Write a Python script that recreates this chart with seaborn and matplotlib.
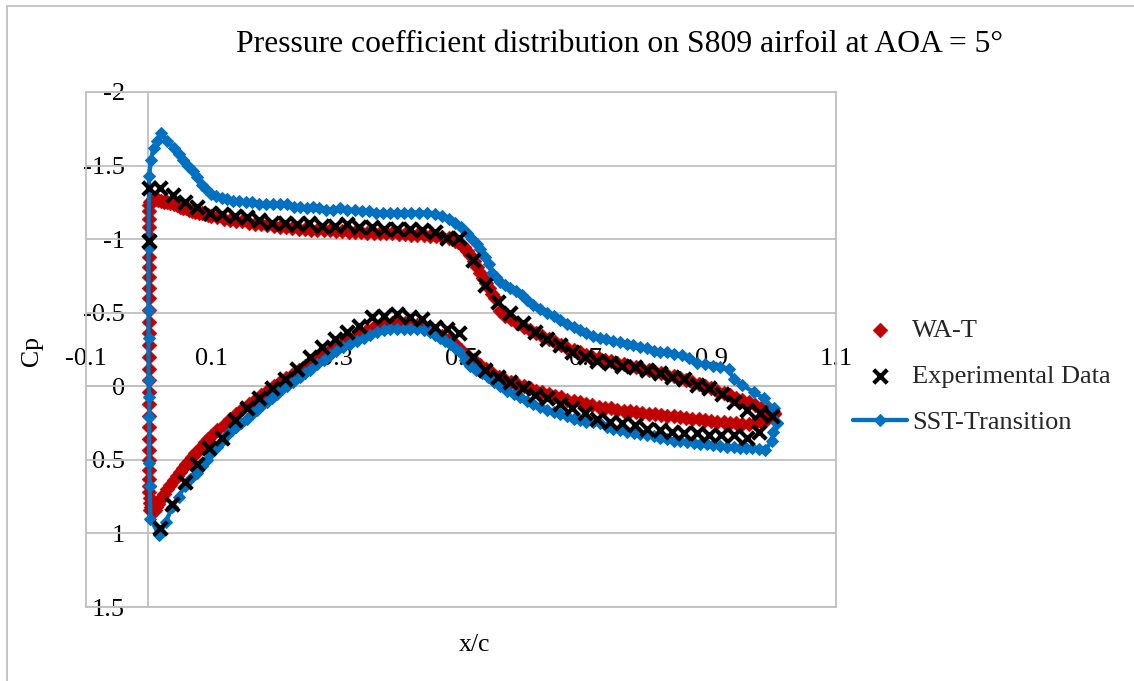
import numpy as np
import pandas as pd
import matplotlib
matplotlib.use("Agg")
import matplotlib.pyplot as plt
import matplotlib.patches as mpatches
import seaborn as sns

# ---------------- data ----------------
title = "Pressure coefficient distribution on S809 airfoil at AOA = 5°"
xticks = [-0.1, 0.1, 0.3, 0.5, 0.7, 0.9, 1.1]
xtick_labels = ["-0.1", "0.1", "0.3", "0.5", "0.7", "0.9", "1.1"]
yticks = [-2, -1.5, -1, -0.5, 0, 0.5, 1, 1.5]
ytick_labels = ["-2", "-1.5", "-1", "-0.5", "0", "0.5", "1", "1.5"]

# WA-T  upper surface (stagnation -> leading edge -> trailing edge)
wat_up_x = [0.006, 0.004, 0.003, 0.002, 0.0015, 0.001, 0.0008, 0.0006, 0.0005, 0.0004,
            0.0003, 0.0002, 0.0002, 0.0001, 0.0001, 0.0, 0.0, 0.0, 0.0, 0.0,
            0.0, 0.0, 0.0, 0.0, 0.0, 0.0, 0.0, 0.0, 0.0, 0.0,
            0.0, 0.0005, 0.001, 0.002, 0.004, 0.007, 0.01, 0.015, 0.02, 0.025,
            0.03, 0.035, 0.04, 0.045, 0.05, 0.055, 0.06, 0.065, 0.07, 0.075,
            0.08, 0.085, 0.09, 0.095,
            0.10, 0.11, 0.12, 0.13, 0.14, 0.15, 0.16, 0.17, 0.18, 0.19,
            0.20, 0.21, 0.22, 0.23, 0.24, 0.25, 0.26, 0.27, 0.28, 0.29,
            0.30, 0.31, 0.32, 0.33, 0.34, 0.35, 0.36, 0.37, 0.38, 0.39,
            0.40, 0.41, 0.42, 0.43, 0.44, 0.45, 0.46, 0.47, 0.48, 0.485,
            0.49, 0.495, 0.50, 0.505, 0.51, 0.515, 0.52, 0.525, 0.53, 0.535,
            0.54, 0.545, 0.55, 0.555, 0.562, 0.57, 0.58, 0.59,
            0.60, 0.61, 0.62, 0.63, 0.64, 0.65, 0.66, 0.67, 0.68, 0.69,
            0.70, 0.71, 0.72, 0.73, 0.74, 0.75, 0.76, 0.77, 0.78, 0.79,
            0.80, 0.81, 0.82, 0.83, 0.84, 0.85, 0.86, 0.87, 0.88, 0.89,
            0.90, 0.91, 0.92, 0.93, 0.94, 0.95, 0.96, 0.97, 0.98, 0.99, 1.00]
wat_up_cp = [0.84, 0.82, 0.79, 0.76, 0.72, 0.68, 0.63, 0.57, 0.50, 0.43,
             0.36, 0.28, 0.20, 0.12, 0.04, -0.04, -0.12, -0.20, -0.28, -0.36,
             -0.44, -0.52, -0.60, -0.67, -0.74, -0.81, -0.88, -0.95, -1.02, -1.08,
             -1.14, -1.19, -1.23, -1.25, -1.26, -1.27, -1.27, -1.265, -1.26, -1.255,
             -1.25, -1.245, -1.24, -1.23, -1.22, -1.215, -1.21, -1.20, -1.19, -1.185,
             -1.18, -1.175, -1.17, -1.165,
             -1.16, -1.15, -1.14, -1.13, -1.125, -1.12, -1.11, -1.105, -1.10, -1.095,
             -1.09, -1.085, -1.08, -1.075, -1.07, -1.07, -1.065, -1.06, -1.06, -1.06,
             -1.055, -1.055, -1.05, -1.05, -1.05, -1.045, -1.045, -1.04, -1.04, -1.04,
             -1.035, -1.035, -1.03, -1.03, -1.025, -1.02, -1.02, -1.015, -1.005, -0.998,
             -0.99, -0.98, -0.965, -0.945, -0.92, -0.89, -0.85, -0.81, -0.77, -0.735,
             -0.70, -0.665, -0.63, -0.60, -0.51, -0.48, -0.455, -0.43,
             -0.405, -0.385, -0.36, -0.34, -0.32, -0.30, -0.28, -0.26, -0.245, -0.23,
             -0.215, -0.20, -0.19, -0.18, -0.17, -0.16, -0.15, -0.14, -0.13, -0.12,
             -0.11, -0.10, -0.09, -0.08, -0.07, -0.055, -0.045, -0.03, -0.015, 0.0,
             0.015, 0.03, 0.045, 0.06, 0.08, 0.095, 0.11, 0.13, 0.145, 0.16, 0.18]

# WA-T  lower surface (stagnation -> trailing edge)
wat_lo_x = [0.003, 0.005, 0.008, 0.01, 0.0125, 0.015, 0.0175, 0.02, 0.025, 0.03,
            0.035, 0.04, 0.045, 0.05, 0.055, 0.06, 0.065, 0.07, 0.075, 0.08,
            0.085, 0.09, 0.095,
            0.10, 0.11, 0.12, 0.13, 0.14, 0.15, 0.16, 0.17, 0.18, 0.19,
            0.20, 0.21, 0.22, 0.23, 0.24, 0.25, 0.26, 0.27, 0.28, 0.29,
            0.30, 0.31, 0.32, 0.33, 0.34, 0.35, 0.36, 0.37, 0.38, 0.39,
            0.40, 0.41, 0.42, 0.43, 0.44, 0.45, 0.46, 0.47, 0.48, 0.49,
            0.50, 0.51, 0.52, 0.53, 0.54, 0.55, 0.56, 0.57, 0.58, 0.59,
            0.60, 0.61, 0.62, 0.63, 0.64, 0.65, 0.66, 0.67, 0.68, 0.69,
            0.70, 0.71, 0.72, 0.73, 0.74, 0.75, 0.76, 0.77, 0.78, 0.79,
            0.80, 0.81, 0.82, 0.83, 0.84, 0.85, 0.86, 0.87, 0.88, 0.89,
            0.90, 0.91, 0.92, 0.93, 0.94, 0.95, 0.96, 0.97, 0.98, 0.99, 1.00]
wat_lo_cp = [0.84, 0.85, 0.85, 0.84, 0.82, 0.80, 0.78, 0.76, 0.73, 0.70,
             0.67, 0.64, 0.61, 0.58, 0.555, 0.53, 0.505, 0.48, 0.455, 0.43,
             0.405, 0.38, 0.36,
             0.34, 0.30, 0.26, 0.225, 0.19, 0.155, 0.12, 0.09, 0.06, 0.03,
             0.0, -0.03, -0.055, -0.08, -0.11, -0.135, -0.16, -0.19, -0.22, -0.245,
             -0.27, -0.295, -0.32, -0.345, -0.365, -0.385, -0.40, -0.415, -0.425, -0.43,
             -0.435, -0.43, -0.425, -0.415, -0.40, -0.385, -0.365, -0.34, -0.315, -0.285,
             -0.25, -0.215, -0.18, -0.145, -0.115, -0.09, -0.065, -0.045, -0.03, -0.015,
             0.0, 0.015, 0.03, 0.04, 0.055, 0.065, 0.075, 0.09, 0.10, 0.11,
             0.12, 0.13, 0.14, 0.145, 0.15, 0.16, 0.165, 0.17, 0.175, 0.18,
             0.185, 0.19, 0.195, 0.20, 0.205, 0.21, 0.215, 0.22, 0.225, 0.23,
             0.235, 0.24, 0.245, 0.25, 0.25, 0.255, 0.255, 0.25, 0.24, 0.22, 0.19]

# Experimental data
exp_up_x = [0.0, 0.0, 0.018, 0.039, 0.058, 0.077, 0.098, 0.117, 0.138, 0.157,
            0.176, 0.197, 0.218, 0.237, 0.257, 0.277, 0.298, 0.317, 0.337, 0.357,
            0.376, 0.397, 0.418, 0.437, 0.458, 0.477, 0.497, 0.519, 0.538, 0.559,
            0.578, 0.599, 0.618, 0.638, 0.658, 0.678, 0.698, 0.718, 0.738, 0.758,
            0.778, 0.798, 0.818, 0.837, 0.856, 0.877, 0.897, 0.918, 0.937, 0.958,
            0.978, 0.998]
exp_up_cp = [-0.99, -1.35, -1.35, -1.30, -1.25, -1.22, -1.18, -1.17, -1.16, -1.15,
             -1.13, -1.11, -1.11, -1.10, -1.11, -1.09, -1.09, -1.10, -1.08, -1.08,
             -1.07, -1.07, -1.07, -1.06, -1.05, -1.01, -1.01, -0.86, -0.69, -0.57,
             -0.50, -0.43, -0.37, -0.32, -0.28, -0.23, -0.20, -0.17, -0.16, -0.14,
             -0.13, -0.11, -0.09, -0.06, -0.05, -0.01, 0.01, 0.05, 0.11, 0.16,
             0.18, 0.20]
exp_lo_x = [0.018, 0.038, 0.058, 0.078, 0.097, 0.117, 0.138, 0.157, 0.176, 0.197,
            0.218, 0.237, 0.258, 0.277, 0.298, 0.317, 0.337, 0.357, 0.376, 0.397,
            0.418, 0.438, 0.458, 0.477, 0.497, 0.519, 0.538, 0.559, 0.578, 0.599,
            0.618, 0.638, 0.658, 0.678, 0.698, 0.718, 0.738, 0.758, 0.778, 0.798,
            0.818, 0.837, 0.857, 0.877, 0.896, 0.916, 0.936, 0.957, 0.977]
exp_lo_cp = [0.96, 0.80, 0.65, 0.53, 0.42, 0.35, 0.23, 0.15, 0.08, 0.01,
             -0.05, -0.12, -0.20, -0.27, -0.32, -0.37, -0.41, -0.47, -0.48, -0.49,
             -0.47, -0.46, -0.40, -0.39, -0.36, -0.20, -0.11, -0.06, -0.03, 0.01,
             0.06, 0.08, 0.12, 0.15, 0.18, 0.22, 0.24, 0.25, 0.26, 0.29,
             0.30, 0.31, 0.32, 0.32, 0.33, 0.33, 0.33, 0.35, 0.31]

# SST-Transition: one ordered loop (TE -> upper -> LE -> lower -> TE)
sst_x = [1.005, 1.0, 0.984, 0.968, 0.95, 0.936, 0.928, 0.915, 0.903, 0.89,
         0.877, 0.865, 0.853, 0.841, 0.83, 0.819, 0.808, 0.797, 0.786, 0.775,
         0.765, 0.754, 0.743, 0.732, 0.722, 0.711, 0.70, 0.69, 0.68, 0.669,
         0.658, 0.648, 0.638, 0.626, 0.615, 0.606, 0.597, 0.588, 0.578, 0.57,
         0.562, 0.556, 0.55, 0.544, 0.538, 0.531, 0.525, 0.518, 0.51, 0.50,
         0.49, 0.48, 0.47, 0.458, 0.445, 0.432, 0.42, 0.408, 0.397, 0.386,
         0.375, 0.364, 0.353, 0.341, 0.33, 0.318, 0.306, 0.295, 0.284, 0.273,
         0.263, 0.253, 0.243, 0.232, 0.221, 0.21, 0.199, 0.188, 0.177, 0.166,
         0.156, 0.145, 0.135, 0.126, 0.117, 0.108, 0.10, 0.092, 0.085, 0.078,
         0.071, 0.063, 0.055, 0.048, 0.04, 0.03, 0.02, 0.013, 0.008, 0.004,
         0.001, 0.0, 0.0, 0.0, 0.0, 0.001, 0.001, 0.001, 0.002, 0.003,
         0.017, 0.028, 0.038, 0.048, 0.058, 0.067, 0.077, 0.085, 0.093, 0.10,
         0.11, 0.117, 0.125, 0.133, 0.14, 0.148, 0.157, 0.165, 0.173, 0.182,
         0.19, 0.197, 0.205, 0.213, 0.221, 0.231, 0.242, 0.25, 0.258, 0.269,
         0.28, 0.29, 0.30, 0.311, 0.322, 0.333, 0.344, 0.355, 0.365, 0.376,
         0.386, 0.397, 0.408, 0.419, 0.43, 0.44, 0.45, 0.458, 0.467, 0.475,
         0.483, 0.49, 0.498, 0.506, 0.515, 0.524, 0.533, 0.543, 0.552, 0.562,
         0.573, 0.584, 0.595, 0.605, 0.615, 0.627, 0.638, 0.648, 0.658, 0.669,
         0.68, 0.69, 0.70, 0.711, 0.722, 0.733, 0.743, 0.754, 0.765, 0.776,
         0.786, 0.797, 0.808, 0.818, 0.83, 0.84, 0.85, 0.861, 0.872, 0.882,
         0.893, 0.903, 0.914, 0.925, 0.936, 0.947, 0.956, 0.966, 0.976, 0.987,
         0.998, 0.999, 1.005]
sst_cp = [0.25, 0.15, 0.08, 0.04, -0.01, -0.05, -0.12, -0.13, -0.14, -0.15,
          -0.16, -0.19, -0.21, -0.22, -0.23, -0.235, -0.24, -0.26, -0.27, -0.28,
          -0.29, -0.30, -0.31, -0.32, -0.33, -0.345, -0.36, -0.38, -0.40, -0.425,
          -0.45, -0.475, -0.50, -0.525, -0.55, -0.585, -0.62, -0.645, -0.67, -0.69,
          -0.71, -0.74, -0.77, -0.83, -0.88, -0.93, -0.97, -1.00, -1.04, -1.08,
          -1.11, -1.14, -1.16, -1.17, -1.18, -1.18, -1.18, -1.18, -1.18, -1.18,
          -1.18, -1.18, -1.19, -1.19, -1.20, -1.20, -1.21, -1.20, -1.20, -1.21,
          -1.22, -1.21, -1.22, -1.22, -1.24, -1.24, -1.24, -1.24, -1.24, -1.25,
          -1.25, -1.26, -1.26, -1.27, -1.28, -1.29, -1.31, -1.34, -1.37, -1.42,
          -1.46, -1.50, -1.54, -1.58, -1.62, -1.67, -1.72, -1.67, -1.62, -1.54,
          -1.43, -0.94, -0.52, -0.33, -0.04, 0.07, 0.21, 0.52, 0.68, 0.90,
          1.01, 0.92, 0.82, 0.75, 0.68, 0.63, 0.59, 0.54, 0.50, 0.45,
          0.41, 0.37, 0.33, 0.30, 0.28, 0.25, 0.22, 0.19, 0.16, 0.13,
          0.11, 0.08, 0.05, 0.02, 0.0, -0.03, -0.06, -0.09, -0.11, -0.15,
          -0.18, -0.21, -0.24, -0.27, -0.29, -0.31, -0.33, -0.35, -0.37, -0.38,
          -0.39, -0.39, -0.39, -0.39, -0.39, -0.38, -0.37, -0.35, -0.33, -0.31,
          -0.29, -0.26, -0.23, -0.18, -0.14, -0.11, -0.09, -0.06, -0.03, 0.0,
          0.03, 0.05, 0.07, 0.10, 0.12, 0.14, 0.16, 0.175, 0.19, 0.205,
          0.22, 0.23, 0.24, 0.245, 0.25, 0.28, 0.29, 0.30, 0.31, 0.32,
          0.325, 0.33, 0.34, 0.35, 0.36, 0.37, 0.375, 0.38, 0.385, 0.39,
          0.395, 0.40, 0.405, 0.41, 0.415, 0.42, 0.42, 0.42, 0.425, 0.43,
          0.37, 0.31, 0.25]

# ---------------- styling ----------------
RED = "#C00000"
BLUE = "#0070C0"
GRID = "#BFBFBF"
FS = 19

sns.set_theme(style="white")
plt.rcParams["font.family"] = ["Liberation Serif", "DejaVu Serif"]

W, H = 1134, 681
fig = plt.figure(figsize=(W / 100, H / 100), dpi=100)
ax = fig.add_axes([86 / W, 1 - 607 / H, 750 / W, 515 / H])

wat = pd.DataFrame({"x": wat_up_x + wat_lo_x, "cp": wat_up_cp + wat_lo_cp})
exp = pd.DataFrame({"x": exp_up_x + exp_lo_x, "cp": exp_up_cp + exp_lo_cp})
sst = pd.DataFrame({"x": sst_x, "cp": sst_cp})

sns.scatterplot(data=wat, x="x", y="cp", ax=ax, marker="D", s=58, color=RED,
                edgecolor=RED, linewidth=0.3, label="WA-T", zorder=3)
sns.lineplot(data=sst, x="x", y="cp", ax=ax, sort=False, estimator=None,
             color=BLUE, lw=3.1, marker="D", ms=5.8, mec=BLUE, mfc=BLUE,
             label="SST-Transition", zorder=4)
sns.scatterplot(data=exp, x="x", y="cp", ax=ax, marker="x", s=95, color="black",
                linewidth=3.0, label="Experimental Data", zorder=5)

ax.set_xlim(-0.1, 1.1)
ax.set_ylim(1.5, -2)
ax.set_xticks([])
ax.set_yticks(yticks)
ax.set_yticklabels([])
ax.tick_params(length=0)
ax.grid(axis="y", color=GRID, lw=1.3)
ax.grid(axis="x", visible=False)
for s in ax.spines.values():
    s.set_color(GRID)
    s.set_linewidth(1.3)

# axes crossing at x=0 and Cp=0 (Excel style)
secx = ax.secondary_xaxis(0, transform=ax.transData)
secx.set_alignment("top")
secx.set_xticks(xticks)
secx.set_xticklabels(xtick_labels)
secx.tick_params(length=0, pad=12, labelsize=FS, colors="black")
for s in secx.spines.values():
    s.set_color(GRID)
    s.set_linewidth(1.3)

secy = ax.secondary_yaxis(0, transform=ax.transData)
secy.set_yticks(yticks)
secy.set_yticklabels(ytick_labels)
secy.tick_params(length=0, pad=17, labelsize=FS, colors="black")
for s in secy.spines.values():
    s.set_color(GRID)
    s.set_linewidth(1.3)

ax.set_xlabel("x/c", fontsize=18.5, color="black")
ax.set_ylabel("Cp", fontsize=18.5, color="black")
ax.xaxis.set_label_coords((475 - 86) / 750, (607 - 645) / 515)
ax.yaxis.set_label_coords((32 - 86) / 750, (607 - 351) / 515)
ax.xaxis.label.set_verticalalignment("center")
ax.yaxis.label.set_verticalalignment("center")

fig.text(620 / W, 1 - 45 / H, title, ha="center", va="center", fontsize=22.8, color="black")

# legend
handles, labels = ax.get_legend_handles_labels()
order = [labels.index("WA-T"), labels.index("Experimental Data"), labels.index("SST-Transition")]
leg = ax.legend([handles[i] for i in order], [labels[i] for i in order],
                loc="center left", bbox_to_anchor=(853 / W, 1 - 376 / H),
                bbox_transform=fig.transFigure, frameon=False, fontsize=FS,
                borderpad=0, borderaxespad=0, handlelength=2.05, handletextpad=0.2,
                labelspacing=0.86, numpoints=1, scatterpoints=1)

# outer chart border
fig.patches.append(mpatches.Rectangle((7 / W, -0.05), 1.0, 1 - 6 / H + 0.05, fill=False,
                                      edgecolor=GRID, lw=1.3, transform=fig.transFigure))

fig.savefig("out.png", dpi=100)
